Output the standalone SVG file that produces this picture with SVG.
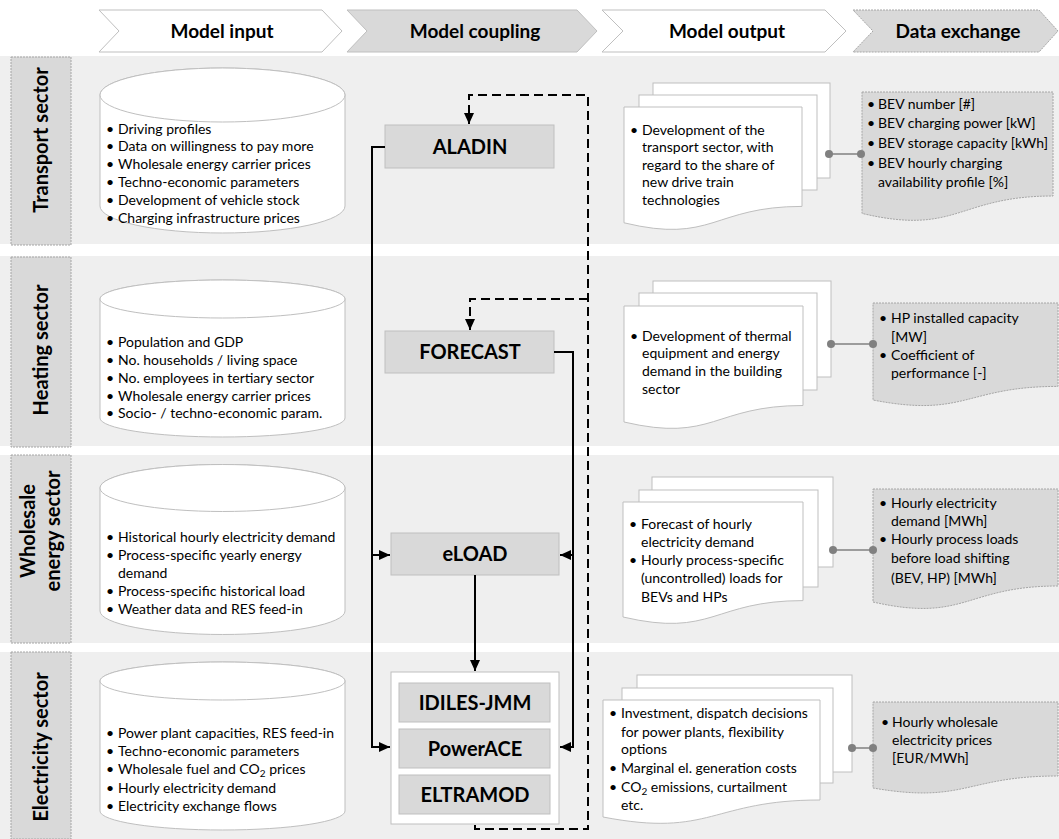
<svg xmlns="http://www.w3.org/2000/svg" width="1059" height="839" viewBox="0 0 1059 839">
<defs>
<style>
.band{fill:#efefef}
.side{fill:#d9d9d9;stroke:#a6a6a6;stroke-width:1;stroke-dasharray:2,1}
.sidet{font-family:Lato,"Liberation Sans",sans-serif;font-weight:bold;font-size:20px;fill:#000;text-anchor:middle}
.head{font-family:Lato,"Liberation Sans",sans-serif;font-weight:bold;font-size:19px;fill:#000;text-anchor:middle}
.chw{fill:#fff;stroke:#bfbfbf;stroke-width:1}
.chg{fill:#d9d9d9;stroke:#bfbfbf;stroke-width:1}
.chd{fill:#d9d9d9;stroke:#a6a6a6;stroke-width:1;stroke-dasharray:2,1}
.cyl{fill:#fff;stroke:#bfbfbf;stroke-width:1}
.t{font-family:Lato,"Liberation Sans",sans-serif;font-size:14px;fill:#000}
.box{fill:#d9d9d9;stroke:#bfbfbf;stroke-width:1}
.boxt{font-family:Lato,"Liberation Sans",sans-serif;font-weight:bold;font-size:20px;fill:#000;text-anchor:middle}
.page{fill:#fff;stroke:#bfbfbf;stroke-width:1}
.data{fill:#d9d9d9;stroke:#a6a6a6;stroke-width:1;stroke-dasharray:2,1}
.link{stroke:#808080;stroke-width:1.5;fill:none}
.dot{fill:#808080}
.solid{stroke:#000;stroke-width:2;fill:none}
.dash{stroke:#000;stroke-width:2;fill:none;stroke-dasharray:9,5}
</style>
<marker id="arr" markerUnits="userSpaceOnUse" markerWidth="12" markerHeight="10" refX="11" refY="5" orient="auto">
<path d="M0,0 L11,5 L0,10 z" fill="#000"/>
</marker>
</defs>
<rect width="1059" height="839" fill="#fff"/>

<g id="header">
<polygon class="chw" points="99,10 322,10 342,31 322,52 99,52 119,31"/>
<text class="head" x="222" y="38">Model input</text>
<polygon class="chg" points="347,10 577,10 597,31 577,52 347,52 367,31"/>
<text class="head" x="475" y="38">Model coupling</text>
<polygon class="chw" points="602,10 825,10 846,31 825,52 602,52 623,31"/>
<text class="head" x="727" y="38">Model output</text>
<polygon class="chd" points="853,10 1039,10 1058,31 1039,52 853,52 873,31"/>
<text class="head" x="958" y="38">Data exchange</text>
</g>

<g id="bands">
<rect class="band" x="0" y="56" width="1059" height="188"/>
<rect class="band" x="0" y="256" width="1059" height="190"/>
<rect class="band" x="0" y="455" width="1059" height="188"/>
<rect class="band" x="0" y="652" width="1059" height="187"/>
</g>

<g id="sector-transport">
<rect class="side" x="11" y="57" width="60" height="188"/>
<text class="sidet" transform="translate(48,140) rotate(-90)">Transport sector</text>
</g>
<g id="sector-heating">
<rect class="side" x="11" y="257" width="60" height="190"/>
<text class="sidet" transform="translate(48,350) rotate(-90)">Heating sector</text>
</g>
<g id="sector-wholesale">
<rect class="side" x="11" y="455" width="60" height="188"/>
<text class="sidet" transform="translate(35,531) rotate(-90)">Wholesale</text>
<text class="sidet" transform="translate(60,531) rotate(-90)">energy sector</text>
</g>
<g id="sector-electricity">
<rect class="side" x="11" y="652" width="60" height="187"/>
<text class="sidet" transform="translate(48,747) rotate(-90)">Electricity sector</text>
</g>

<g id="input-transport">
<path class="cyl" d="M100,95 A122.5,27 0 0 1 345,95 V206 A122.5,27 0 0 1 100,206 Z"/>
<ellipse class="cyl" cx="222.5" cy="95" rx="122.5" ry="27"/>
<text class="t"><tspan x="106" y="134">•</tspan><tspan x="118">Driving profiles</tspan></text>
<text class="t"><tspan x="106" y="151">•</tspan><tspan x="118">Data on willingness to pay more</tspan></text>
<text class="t"><tspan x="106" y="169">•</tspan><tspan x="118">Wholesale energy carrier prices</tspan></text>
<text class="t"><tspan x="106" y="187">•</tspan><tspan x="118">Techno-economic parameters</tspan></text>
<text class="t"><tspan x="106" y="205">•</tspan><tspan x="118">Development of vehicle stock</tspan></text>
<text class="t"><tspan x="106" y="223">•</tspan><tspan x="118">Charging infrastructure prices</tspan></text>
</g>

<g id="input-heating">
<path class="cyl" d="M100,299 A122.5,19 0 0 1 345,299 V418 A122.5,19 0 0 1 100,418 Z"/>
<ellipse class="cyl" cx="222.5" cy="299" rx="122.5" ry="19"/>
<text class="t"><tspan x="106" y="347">•</tspan><tspan x="118">Population and GDP</tspan></text>
<text class="t"><tspan x="106" y="365">•</tspan><tspan x="118">No. households / living space</tspan></text>
<text class="t"><tspan x="106" y="383">•</tspan><tspan x="118">No. employees in tertiary sector</tspan></text>
<text class="t"><tspan x="106" y="401">•</tspan><tspan x="118">Wholesale energy carrier prices</tspan></text>
<text class="t"><tspan x="106" y="418">•</tspan><tspan x="118">Socio- / techno-economic param.</tspan></text>
</g>

<g id="input-wholesale">
<path class="cyl" d="M100,488 A122.5,23.5 0 0 1 345,488 V611 A122.5,23.5 0 0 1 100,611 Z"/>
<ellipse class="cyl" cx="222.5" cy="488" rx="122.5" ry="23.5"/>
<text class="t"><tspan x="106" y="542">•</tspan><tspan x="118">Historical hourly electricity demand</tspan></text>
<text class="t"><tspan x="106" y="560">•</tspan><tspan x="118">Process-specific yearly energy</tspan></text>
<text class="t"><tspan x="118" y="578">demand</tspan></text>
<text class="t"><tspan x="106" y="596">•</tspan><tspan x="118">Process-specific historical load</tspan></text>
<text class="t"><tspan x="106" y="614">•</tspan><tspan x="118">Weather data and RES feed-in</tspan></text>
</g>

<g id="input-electricity">
<path class="cyl" d="M100,681 A122.5,19 0 0 1 345,681 V811 A122.5,19 0 0 1 100,811 Z"/>
<ellipse class="cyl" cx="222.5" cy="681" rx="122.5" ry="19"/>
<text class="t"><tspan x="106" y="738">•</tspan><tspan x="118">Power plant capacities, RES feed-in</tspan></text>
<text class="t"><tspan x="106" y="756">•</tspan><tspan x="118">Techno-economic parameters</tspan></text>
<text class="t"><tspan x="106" y="774">•</tspan><tspan x="118">Wholesale fuel and CO<tspan font-size="10" dy="3">2</tspan><tspan dy="-3"> prices</tspan></tspan></text>
<text class="t"><tspan x="106" y="793">•</tspan><tspan x="118">Hourly electricity demand</tspan></text>
<text class="t"><tspan x="106" y="811">•</tspan><tspan x="118">Electricity exchange flows</tspan></text>
</g>

<g id="model-aladin">
<rect class="box" x="385" y="125" width="169" height="43"/>
<text class="boxt" x="470" y="154">ALADIN</text>
</g>
<g id="model-forecast">
<rect class="box" x="385" y="331" width="169" height="42"/>
<text class="boxt" x="470" y="359">FORECAST</text>
</g>
<g id="model-eload">
<rect class="box" x="391" y="533" width="168" height="42"/>
<text class="boxt" x="475" y="561">eLOAD</text>
</g>
<g id="model-electricity">
<rect x="391" y="672" width="168" height="152" fill="#fff" stroke="#bfbfbf" stroke-width="1"/>
<g id="model-idiles">
<rect class="box" x="399" y="683" width="151" height="39"/>
<text class="boxt" x="475" y="710">IDILES-JMM</text>
</g>
<g id="model-powerace">
<rect class="box" x="399" y="729" width="151" height="39"/>
<text class="boxt" x="475" y="756">PowerACE</text>
</g>
<g id="model-eltramod">
<rect class="box" x="399" y="775" width="151" height="39"/>
<text class="boxt" x="475" y="802">ELTRAMOD</text>
</g>
</g>

<g id="output-transport">
<rect class="page" x="653" y="83" width="177" height="95"/>
<rect class="page" x="639" y="95" width="178" height="95"/>
<path class="page" d="M624,107 H802 V206.4 C713,206.4 713,244.3 624,222.8 Z"/>
<text class="t"><tspan x="630" y="135">•</tspan><tspan x="642">Development of the</tspan></text>
<text class="t"><tspan x="642" y="152">transport sector, with</tspan></text>
<text class="t"><tspan x="642" y="170">regard to the share of</tspan></text>
<text class="t"><tspan x="642" y="187">new drive train</tspan></text>
<text class="t"><tspan x="642" y="205">technologies</tspan></text>
</g>
<g id="data-transport">
<path class="data" d="M862,92 H1053 V196 C957.5,196 957.5,236 862,213.4 Z"/>
<text class="t"><tspan x="867" y="109">•</tspan><tspan x="878">BEV number [#]</tspan></text>
<text class="t"><tspan x="867" y="128">•</tspan><tspan x="878">BEV charging power [kW]</tspan></text>
<text class="t"><tspan x="867" y="148">•</tspan><tspan x="878">BEV storage capacity [kWh]</tspan></text>
<text class="t"><tspan x="867" y="168">•</tspan><tspan x="878">BEV hourly charging</tspan></text>
<text class="t"><tspan x="878" y="187">availability profile [%]</tspan></text>
</g>

<g id="output-heating">
<rect class="page" x="653" y="281" width="178" height="96"/>
<rect class="page" x="639" y="293" width="178" height="97"/>
<path class="page" d="M624,306 H803 V405.5 C713.5,405.5 713.5,443 624,422 Z"/>
<text class="t"><tspan x="630" y="341">•</tspan><tspan x="642">Development of thermal</tspan></text>
<text class="t"><tspan x="642" y="358">equipment and energy</tspan></text>
<text class="t"><tspan x="642" y="376">demand in the building</tspan></text>
<text class="t"><tspan x="642" y="394">sector</tspan></text>
</g>
<g id="data-heating">
<path class="data" d="M873,303 H1058 V386.4 C965.5,386.4 965.5,418 873,400 Z"/>
<text class="t"><tspan x="879" y="323">•</tspan><tspan x="891">HP installed capacity</tspan></text>
<text class="t"><tspan x="891" y="342">[MW]</tspan></text>
<text class="t"><tspan x="879" y="360">•</tspan><tspan x="891">Coefficient of</tspan></text>
<text class="t"><tspan x="891" y="378">performance [-]</tspan></text>
</g>

<g id="output-wholesale">
<rect class="page" x="652" y="477" width="181" height="90"/>
<rect class="page" x="639" y="490" width="179" height="97"/>
<path class="page" d="M623,502 H803 V600.6 C713,600.6 713,638 623,617 Z"/>
<text class="t"><tspan x="629" y="529">•</tspan><tspan x="641">Forecast of hourly</tspan></text>
<text class="t"><tspan x="641" y="547">electricity demand</tspan></text>
<text class="t"><tspan x="629" y="565">•</tspan><tspan x="641">Hourly process-specific</tspan></text>
<text class="t"><tspan x="641" y="583">(uncontrolled) loads for</tspan></text>
<text class="t"><tspan x="641" y="602">BEVs and HPs</tspan></text>
</g>
<g id="data-wholesale">
<path class="data" d="M873,489 H1058 V586 C965.5,586 965.5,623 873,602 Z"/>
<text class="t"><tspan x="879" y="508">•</tspan><tspan x="891">Hourly electricity</tspan></text>
<text class="t"><tspan x="891" y="526">demand [MWh]</tspan></text>
<text class="t"><tspan x="879" y="544">•</tspan><tspan x="891">Hourly process loads</tspan></text>
<text class="t"><tspan x="891" y="563">before load shifting</tspan></text>
<text class="t"><tspan x="891" y="583">(BEV, HP) [MWh]</tspan></text>
</g>

<g id="output-electricity">
<rect class="page" x="637" y="675" width="215" height="97"/>
<rect class="page" x="622" y="688" width="211" height="95"/>
<path class="page" d="M603,700 H820 V800 C711.5,800 711.5,838 603,817 Z"/>
<text class="t"><tspan x="609" y="718">•</tspan><tspan x="621">Investment, dispatch decisions</tspan></text>
<text class="t"><tspan x="621" y="737">for power plants, flexibility</tspan></text>
<text class="t"><tspan x="621" y="754">options</tspan></text>
<text class="t"><tspan x="609" y="773">•</tspan><tspan x="621">Marginal el. generation costs</tspan></text>
<text class="t"><tspan x="609" y="792">•</tspan><tspan x="621">CO<tspan font-size="10" dy="3">2</tspan><tspan dy="-3"> emissions, curtailment</tspan></tspan></text>
<text class="t"><tspan x="621" y="810">etc.</tspan></text>
</g>
<g id="data-electricity">
<path class="data" d="M873,702 H1058 V776 C965.5,776 965.5,804 873,788 Z"/>
<text class="t"><tspan x="881" y="727">•</tspan><tspan x="892">Hourly wholesale</tspan></text>
<text class="t"><tspan x="892" y="745">electricity prices</tspan></text>
<text class="t"><tspan x="892" y="763">[EUR/MWh]</tspan></text>
</g>

<g id="connectors">
<path class="solid" d="M385,147 H372 V747 H390" marker-end="url(#arr)"/>
<path class="solid" d="M372,555 H390" marker-end="url(#arr)"/>
<path class="solid" d="M554,352 H573 V747 H560" marker-end="url(#arr)"/>
<path class="solid" d="M573,555 H560" marker-end="url(#arr)"/>
<path class="solid" d="M475,575 V671" marker-end="url(#arr)"/>
<path class="dash" d="M475,825 V829 H588 V95 H469 V124" marker-end="url(#arr)"/>
<path class="dash" d="M588,299 H470 V330" marker-end="url(#arr)"/>
<line class="link" x1="829" y1="154" x2="861" y2="154"/>
<circle class="dot" cx="829" cy="154" r="4"/><circle class="dot" cx="861" cy="154" r="4"/>
<line class="link" x1="831" y1="344" x2="873" y2="344"/>
<circle class="dot" cx="831" cy="344" r="4"/><circle class="dot" cx="873" cy="344" r="4"/>
<line class="link" x1="833" y1="550" x2="873" y2="550"/>
<circle class="dot" cx="833" cy="550" r="4"/><circle class="dot" cx="873" cy="550" r="4"/>
<line class="link" x1="852" y1="748" x2="873" y2="748"/>
<circle class="dot" cx="852" cy="748" r="4"/><circle class="dot" cx="873" cy="748" r="4"/>
</g>
</svg>
